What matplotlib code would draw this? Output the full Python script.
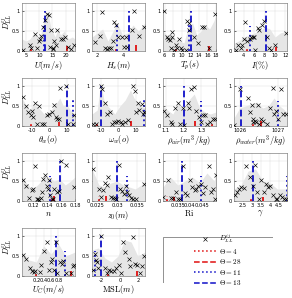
import numpy as np
import matplotlib
matplotlib.use('Agg')
import matplotlib.pyplot as plt
from matplotlib.lines import Line2D
from matplotlib.patches import Rectangle

plt.rcParams['mathtext.fontset'] = 'cm'
plt.rcParams['font.family'] = ['DejaVu Sans']

# one entry per panel
xlabels = ['$U(m/s)$', '$H_s(m)$', '$T_p(s)$', '$I(\\%)$',
           '$\\theta_w(o)$', '$\\omega_w(o)$', '$\\rho_{air}(m^3/kg)$', '$\\rho_{water}(m^3/kg)$',
           '$n$', '$z_0(m)$', '$\\mathrm{Ri}$', '$\\gamma$',
           '$U_C(m/s)$', '$\\mathrm{MSL}(m)$']

xlims = [(3.5, 23.5), (1.6, 5.6), (5.6, 18.0), (2.1, 12.3),
         (-15.6, 14.7), (-15.0, 15.3), (1.085, 1.382), (1025.85, 1027.24),
         (0.1037, 0.18), (0.0238, 0.0369), (0.029, 0.0507), (2.02, 4.93),
         (-0.19, 1.25), (-2.98, 2.68)]

xticks = [[5, 10, 15, 20], [2, 4], [6, 8, 10, 12, 14, 16, 18], [4, 6, 8, 10, 12],
          [-10, 0, 10], [-10, 0, 10], [1.1, 1.2, 1.3], [1026, 1027],
          [0.12, 0.14, 0.16, 0.18], [0.025, 0.03, 0.035], [0.035, 0.04, 0.045], [2.5, 3, 3.5, 4, 4.5],
          [0.2, 0.4, 0.6, 0.8], [-2, 0, 2]]

xticklabels = [['5', '10', '15', '20'], ['2', '4'], ['6', '8', '10', '12', '14', '16', '18'],
               ['4', '6', '8', '10', '12'], ['-10', '0', '10'], ['-10', '0', '10'],
               ['1.1', '1.2', '1.3'], ['1026', '1027'], ['0.12', '0.14', '0.16', '0.18'],
               ['0.025', '0.03', '0.035'], ['0.035', '0.04', '0.045'],
               ['2.5', '3', '3.5', '4', '4.5'], ['0.2', '0.4', '0.6', '0.8'], ['-2', '0', '2']]

# D_LL^ij points
cross_x = [
    [4.0, 6.5, 6.9, 8.3, 9.0, 9.9, 10.3, 10.7, 11.3, 12.3, 12.9, 13.6, 14.1, 14.4, 15.1, 15.3,
     15.7, 16.3, 16.7, 18.2, 18.8, 19.9, 20.7, 22.0, 23.3],
    [1.83, 2.17, 2.39, 2.61, 2.73, 2.85, 3.02, 3.17, 3.29, 3.41, 3.59, 3.83, 4.0, 4.15, 4.27,
     4.63, 4.8, 5.17, 5.55],
    [5.84, 6.47, 6.86, 7.25, 7.65, 7.8, 7.57, 8.2, 8.59, 8.98, 9.37, 9.76, 10.16, 10.94, 11.33,
     11.57, 11.73, 12.9, 13.69, 14.63, 15.1, 16.27, 17.84],
    [2.44, 2.88, 3.38, 3.69, 4.0, 4.19, 4.63, 5.13, 5.38, 5.75, 5.88, 6.19, 6.63, 7.0, 7.44,
     7.88, 8.38, 8.88, 9.31, 9.94, 12.2],
    [-15.3, -13.3, -12.0, -10.5, -10.1, -9.1, -8.2, -6.9, -5.7, -4.4, -3.0, -1.5, 0.0, 1.3,
     2.7, 3.8, 4.6, 5.7, 6.1, 9.5, 10.9, 13.3, 14.4],
    [-14.4, -12.5, -9.9, -9.0, -7.5, -6.5, -4.7, -3.7, -2.4, -1.3, 0.0, 1.3, 2.2, 3.7, 5.5,
     8.4, 9.3, 10.2, 11.1, 12.1, 13.6, 14.0, 15.0],
    [1.088, 1.11, 1.129, 1.138, 1.153, 1.167, 1.182, 1.195, 1.205, 1.224, 1.233, 1.243, 1.258,
     1.271, 1.285, 1.296, 1.31, 1.319, 1.334, 1.348, 1.367, 1.378],
    [1025.86, 1026.0, 1026.21, 1026.26, 1026.32, 1026.34, 1026.36, 1026.4, 1026.44, 1026.49,
     1026.51, 1026.55, 1026.62, 1026.72, 1026.79, 1026.87, 1026.91, 1026.94, 1027.0, 1027.09,
     1027.13, 1027.22],
    [0.1046, 0.1094, 0.1142, 0.1181, 0.119, 0.1224, 0.1248, 0.1272, 0.1286, 0.1306, 0.132,
     0.1344, 0.1368, 0.1392, 0.1406, 0.143, 0.144, 0.1464, 0.1488, 0.1502, 0.1536, 0.1574,
     0.1598, 0.167, 0.179],
    [0.02403, 0.02565, 0.02605, 0.02661, 0.02702, 0.02742, 0.02782, 0.02839, 0.02903, 0.02944,
     0.02984, 0.03048, 0.03081, 0.03129, 0.03161, 0.0321, 0.03242, 0.0329, 0.03347, 0.03403,
     0.03468, 0.03675],
    [0.0292, 0.0311, 0.0322, 0.0329, 0.0343, 0.035, 0.0361, 0.0371, 0.0382, 0.0389, 0.0399,
     0.0408, 0.0419, 0.0426, 0.0433, 0.0444, 0.0454, 0.0464, 0.0478, 0.0486, 0.0496, 0.0503,
     0.0505],
    [2.05, 2.2, 2.29, 2.43, 2.59, 2.7, 2.88, 3.05, 3.18, 3.27, 3.41, 3.48, 3.66, 3.8, 3.89,
     3.98, 4.16, 4.3, 4.38, 4.52, 4.66, 4.79, 4.9],
    [-0.17, -0.08, 0.03, 0.07, 0.14, 0.17, 0.29, 0.33, 0.41, 0.48, 0.53, 0.59, 0.63, 0.67,
     0.74, 0.77, 0.84, 0.89, 0.93, 1.0, 1.14, 1.2, 1.23],
    [-2.92, -2.64, -2.54, -2.47, -2.37, -1.97, -1.63, -1.36, -1.12, -0.95, -0.61, -0.44, -0.1,
     0.14, 0.34, 0.58, 0.92, 1.08, 1.42, 1.59, 1.83, 2.1, 2.37, 2.62],
]

cross_y = [
    [0.02, 0.14, 0.08, 0.43, 0.08, 0.25, 0.29, 0.37, 0.61, 0.78, 0.92, 0.9, 0.1, 0.53, 0.04,
     0.08, 0.25, 0.16, 0.53, 0.29, 0.3, 0.34, 0.1, 0.04, 0.16],
    [0.22, 0.37, 0.97, 0.08, 0.04, 0.08, 0.08, 0.25, 0.72, 0.66, 0.34, 0.34, 0.1, 0.34, 0.1,
     0.53, 1.0, 0.37, 0.61],
    [0.99, 0.36, 0.3, 0.27, 0.34, 0.48, 0.07, 0.03, 0.16, 0.07, 0.3, 0.07, 0.03, 0.03, 0.75,
     0.52, 0.7, 0.34, 0.21, 0.61, 0.61, 0.07, 0.92],
    [0.03, 0.16, 0.07, 0.16, 0.3, 0.72, 0.25, 0.3, 0.36, 0.34, 0.36, 0.03, 0.57, 0.52, 0.66,
     0.75, 0.36, 0.07, 0.03, 0.16, 0.45],
    [0.73, 0.5, 0.35, 0.28, 0.37, 0.22, 0.58, 0.04, 0.49, 0.06, 0.06, 0.27, 0.31, 0.35, 0.53,
     0.22, 0.18, 0.18, 0.96, 0.99, 0.04, 0.04, 0.28],
    [0.04, 0.04, 0.99, 0.93, 0.58, 0.31, 0.35, 0.04, 0.09, 0.11, 0.13, 0.09, 0.06, 0.09, 0.15,
     0.99, 0.87, 0.35, 0.58, 0.4, 0.55, 0.31, 0.35],
    [0.37, 0.27, 0.09, 0.04, 0.44, 0.58, 0.04, 0.46, 0.02, 0.58, 0.44, 0.93, 0.97, 0.37, 0.22,
     0.09, 0.27, 0.27, 0.04, 0.11, 0.18, 0.18],
    [0.02, 0.93, 0.71, 0.35, 0.53, 0.11, 0.18, 0.13, 0.09, 0.53, 0.04, 0.18, 0.13, 0.04, 0.44,
     0.96, 0.31, 0.37, 0.18, 0.93, 0.31, 0.31],
    [0.53, 0.38, 0.08, 0.27, 0.3, 0.87, 0.06, 0.05, 0.02, 0.08, 0.23, 0.55, 0.64, 0.38, 0.3,
     0.53, 0.15, 0.04, 0.04, 0.3, 0.23, 0.24, 1.0, 0.91, 0.34],
    [0.8, 0.3, 0.09, 0.27, 0.45, 0.39, 0.61, 0.11, 0.08, 0.08, 0.04, 0.91, 0.3, 0.24, 0.17,
     0.38, 0.23, 0.15, 0.08, 0.04, 0.04, 0.42],
    [0.11, 0.53, 0.08, 0.08, 0.23, 0.04, 0.04, 0.87, 0.19, 0.15, 0.53, 0.34, 0.27, 0.3, 0.38,
     0.42, 0.19, 0.34, 0.87, 0.23, 0.3, 0.04, 0.64],
    [0.15, 0.23, 0.3, 0.34, 0.32, 0.87, 0.61, 0.38, 0.91, 0.23, 0.04, 0.53, 0.23, 0.42, 0.34,
     0.38, 0.15, 0.04, 0.04, 0.15, 0.11, 0.04, 0.04],
    [0.53, 0.42, 0.2, 0.13, 0.1, 0.13, 0.1, 0.28, 0.63, 0.84, 0.16, 0.35, 0.43, 0.16, 0.84,
     0.08, 0.34, 0.31, 0.37, 0.08, 0.08, 0.24, 0.27],
    [0.16, 0.55, 0.39, 0.35, 0.2, 1.0, 0.2, 0.08, 0.16, 0.12, 0.12, 0.2, 0.28, 0.08, 0.84,
     0.59, 0.43, 0.24, 0.97, 0.31, 0.28, 0.08, 0.24, 0.51],
]

# grey spread band (upper edge, lower edge is 0)
band_x = [
    [3.5, 5, 6.5, 8, 9.5, 10.5, 11.5, 12.5, 13.5, 14.5, 16, 17, 18, 19.5, 21, 22.5, 23.5],
    [1.6, 2.0, 2.4, 2.8, 3.2, 3.5, 3.9, 4.3, 4.7, 5.1, 5.6],
    [5.6, 6.5, 7.5, 8.5, 9.5, 10.5, 11.5, 12.5, 13.5, 14.5, 15.5, 16.5, 17.5, 18],
    [2.1, 3, 4, 5, 6, 7, 8, 9, 10, 11, 12.3],
    [-15.6, -13, -11, -9, -6, -3, 0, 3, 6, 8, 10, 12, 14.7],
    [-15, -12, -10, -8, -5, -2, 1, 4, 7, 9, 11, 13, 15.3],
    [1.085, 1.11, 1.14, 1.17, 1.2, 1.23, 1.26, 1.29, 1.32, 1.35, 1.382],
    [1025.85, 1026.0, 1026.15, 1026.3, 1026.45, 1026.6, 1026.75, 1026.9, 1027.05, 1027.24],
    [0.1037, 0.11, 0.118, 0.126, 0.134, 0.142, 0.15, 0.158, 0.166, 0.174, 0.18],
    [0.0238, 0.0255, 0.027, 0.0285, 0.03, 0.0315, 0.033, 0.0345, 0.036, 0.0369],
    [0.029, 0.032, 0.035, 0.038, 0.041, 0.044, 0.047, 0.05, 0.0507],
    [2.02, 2.4, 2.8, 3.2, 3.6, 4.0, 4.4, 4.93],
    [-0.19, 0.0, 0.2, 0.4, 0.6, 0.8, 1.0, 1.25],
    [-2.98, -2.3, -1.6, -0.9, -0.2, 0.5, 1.2, 1.9, 2.68],
]
band_hi = [
    [0.3, 0.25, 0.3, 0.45, 0.35, 0.4, 0.7, 0.95, 0.9, 0.55, 0.35, 0.55, 0.4, 0.5, 0.3, 0.35, 0.3],
    [0.35, 0.45, 0.55, 0.25, 0.5, 0.7, 0.4, 0.45, 0.65, 0.5, 0.7],
    [0.5, 0.4, 0.45, 0.3, 0.25, 0.2, 0.6, 0.7, 0.4, 0.5, 0.65, 0.55, 0.75, 0.9],
    [0.2, 0.25, 0.35, 0.4, 0.45, 0.5, 0.6, 0.55, 0.35, 0.45, 0.5],
    [0.7, 0.5, 0.4, 0.55, 0.45, 0.3, 0.35, 0.5, 0.7, 0.5, 0.55, 0.4, 0.3],
    [0.3, 0.4, 1.1, 0.6, 0.45, 0.3, 0.5, 0.65, 0.9, 0.7, 0.6, 0.5, 0.45],
    [0.5, 0.4, 0.3, 0.55, 0.4, 0.65, 0.8, 0.45, 0.35, 0.3, 0.35],
    [0.2, 0.45, 0.5, 0.55, 0.6, 0.45, 0.5, 0.7, 0.5, 0.35],
    [0.6, 0.45, 0.3, 0.4, 0.55, 0.6, 0.5, 0.55, 0.4, 0.5, 0.6],
    [0.8, 0.4, 0.35, 0.45, 0.5, 0.4, 0.35, 0.3, 0.4, 0.5],
    [0.35, 0.6, 0.4, 0.5, 0.6, 0.45, 0.7, 0.5, 0.7],
    [0.3, 0.4, 0.75, 0.8, 0.5, 0.45, 0.3, 0.3],
    [0.6, 0.4, 0.35, 0.75, 0.55, 0.8, 0.5, 0.6],
    [0.65, 0.7, 0.45, 0.35, 0.5, 0.9, 0.85, 0.5, 0.6],
]

# Theta = 4, 28, 11, 13 : position and height of each stem
theta_names = ['$\\Theta = 4$', '$\\Theta = 28$', '$\\Theta = 11$', '$\\Theta = 13$']
theta_x = [
    [6.8, 20.6, 11.7, 12.0], [3.4, 4.93, 3.46, 4.39], [8.6, 16.4, 11.7, 12.1], [4.6, 10.1, 5.1, 8.25],
    [-10.7, 5.7, 13.3, 9.9], [-12.1, 7.5, 14.6, -9.9], [1.357, 1.262, 1.296, 1.2],
    [1026.36, 1026.55, 1027.0, 1026.04], [0.147, 0.15, 0.144, 0.159], [0.0256, 0.0272, 0.0325, 0.030],
    [0.0308, 0.0333, 0.0447, 0.0368], [2.95, 3.62, 4.93, 3.04], [0.18, 1.13, 0.97, 0.74],
    [-1.22, 1.83, -2.71, -1.97],
]
theta_h = [
    [0.1, 0.13, 0.62, 1.0], [0.1, 0.15, 0.66, 1.0], [0.08, 0.12, 0.65, 1.0], [0.1, 0.1, 0.62, 1.0],
    [0.1, 0.1, 0.65, 1.0], [0.1, 0.12, 0.65, 1.0], [0.1, 0.12, 0.62, 1.0], [0.1, 0.12, 0.62, 1.0],
    [0.1, 0.12, 0.62, 1.0], [0.13, 0.12, 0.62, 1.0], [0.12, 0.1, 0.62, 1.0], [0.1, 0.1, 0.62, 1.0],
    [0.12, 0.12, 0.62, 1.0], [0.12, 0.12, 0.62, 1.0],
]
theta_color = ['#e01010', '#e01010', '#1010c8', '#1010c8']
theta_style = [':', '--', ':', '--']

fig = plt.figure(figsize=(2.92, 2.98), dpi=100)

lefts = [22, 92, 163, 234]
tops = [3, 78, 153, 228]
W, H = 292.0, 298.0

for k in range(14):
    r, c = divmod(k, 4)
    ax = fig.add_axes([lefts[c] / W, 1 - (tops[r] + 48) / H, 53 / W, 48 / H])
    ax.fill_between(band_x[k], 0, band_hi[k], color='0.9', lw=0, zorder=1)
    for j in range(4):
        ax.plot([theta_x[k][j], theta_x[k][j]], [0, theta_h[k][j]], color=theta_color[j],
                ls=theta_style[j], lw=1.3, zorder=3)
    ax.plot(cross_x[k], cross_y[k], 'x', color='k', ms=2.4, mew=0.45, zorder=4)
    ax.set_xlim(xlims[k])
    ax.set_ylim(0, 1.2)
    ax.set_yticks([0, 0.5, 1])
    ax.set_yticklabels(['0', '0.5', '1'])
    ax.set_xticks(xticks[k])
    ax.set_xticklabels(xticklabels[k])
    ax.tick_params(labelsize=3.7, direction='in', length=1.5, width=0.4, pad=1.5)
    ax.grid(True, color='0.85', lw=0.3)
    ax.set_axisbelow(True)
    for s in ax.spines.values():
        s.set_linewidth(0.4)
        s.set_color('0.4')
    ax.set_xlabel(xlabels[k], fontsize=6, labelpad=0.3)
    if c == 0:
        ax.set_ylabel('$D^{ij}_{LL}$', fontsize=6)
        ax.yaxis.set_label_coords(-0.13, 0.62)

# legend box
lax = fig.add_axes([163 / W, 1 - 283 / H, 110 / W, 46 / H])
lax.axis('off')
lax.add_patch(Rectangle((0, 0), 1, 1, transform=lax.transAxes, fill=False, ec='0.4', lw=0.5))
handles = [Line2D([], [], ls='none', marker='x', color='k', ms=2.4, mew=0.45)]
for j in range(4):
    handles.append(Line2D([], [], color=theta_color[j], ls=theta_style[j], lw=1.1))
lax.legend(handles, ['$D^{ij}_{LL}$'] + theta_names, loc='center', frameon=False,
           fontsize=5.2, handlelength=3.0, labelspacing=0.2, handletextpad=0.4,
           borderpad=0.2)

fig.savefig('out.png', dpi=100)
